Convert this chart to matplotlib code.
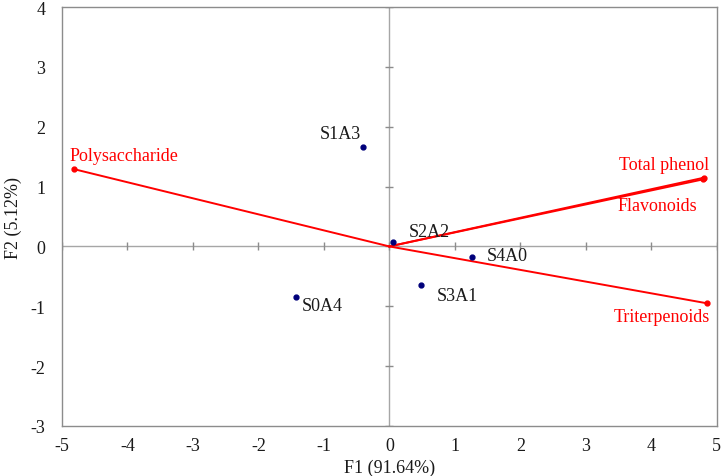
import matplotlib
matplotlib.use("Agg")
import matplotlib.pyplot as plt

plt.rcParams['font.family'] = ['Liberation Serif', 'DejaVu Serif']
plt.rcParams['axes.unicode_minus'] = False

samples = ["S1A3", "S2A2", "S4A0", "S3A1", "S0A4"]
sample_f1 = [-0.40, 0.06, 1.27, 0.49, -1.42]
sample_f2 = [1.67, 0.07, -0.18, -0.65, -0.85]

variables = ["Polysaccharide", "Total phenol", "Flavonoids", "Triterpenoids"]
var_f1 = [-4.81, 4.81, 4.79, 4.85]
var_f2 = [1.29, 1.15, 1.12, -0.95]

xticks = [-5, -4, -3, -2, -1, 0, 1, 2, 3, 4, 5]
yticks = [-3, -2, -1, 0, 1, 2, 3, 4]

sample_offsets = {"S1A3": (-31, 9.4), "S2A2": (10.8, 7.9), "S4A0": (10, 1.4), "S3A1": (10.8, -7.2), "S0A4": (3.6, -5.8)}
var_offsets = {"Polysaccharide": (-3.6, 10), "Total phenol": (3.6, 9.4), "Flavonoids": (-4.3, -18.7), "Triterpenoids": (2.2, -9.4)}

fig = plt.figure(figsize=(7.25, 4.77), dpi=100)
ax = fig.add_axes([0.0855, 0.105, 0.903, 0.878])
ax.set_xlim(-5, 5)
ax.set_ylim(-3, 4)

gray = "#a6a6a6"
for s in ax.spines.values():
    s.set_color("#8c8c8c")
    s.set_linewidth(1.0)
ax.axhline(0, color=gray, lw=1.0, zorder=1)
ax.axvline(0, color=gray, lw=1.0, zorder=1)
# crossing tick marks on zero axes
ax.plot(xticks, [0] * len(xticks), ls="none", marker="|", ms=6, mew=1.0, color="#8c8c8c", zorder=1)
ax.plot([0] * len(yticks), yticks, ls="none", marker="_", ms=6, mew=1.0, color="#8c8c8c", zorder=1)

ax.set_xticks(xticks)
ax.set_yticks(yticks)
ax.tick_params(length=0, labelsize=13, colors="#1a1a1a")
ax.tick_params(axis="x", pad=8)
ax.tick_params(axis="y", pad=12)

ax.set_xlabel("F1 (91.64%)", fontsize=13, labelpad=3, color="#1a1a1a")
ax.set_ylabel("F2 (5.12%)", fontsize=13, labelpad=6, color="#1a1a1a")

for name, x, y in zip(variables, var_f1, var_f2):
    ax.plot([0, x], [0, y], color="red", lw=1.4, zorder=2)
    ax.plot([x], [y], "o", color="red", ms=3.5, zorder=3)
    dx, dy = var_offsets[name]
    ha = "left" if x < 0 else "right"
    ax.annotate(name, (x, y), xytext=(dx, dy), textcoords="offset points", color="red",
                fontsize=13, ha=ha, va="center")

ax.plot(sample_f1, sample_f2, "o", color="#00007a", ms=3.5, ls="none", zorder=4)
for name, x, y in zip(samples, sample_f1, sample_f2):
    dx, dy = sample_offsets[name]
    ax.annotate(name, (x, y), xytext=(dx, dy), textcoords="offset points", color="#1a1a1a",
                fontsize=13, ha="left", va="center")

fig.savefig("out.png", dpi=100)
